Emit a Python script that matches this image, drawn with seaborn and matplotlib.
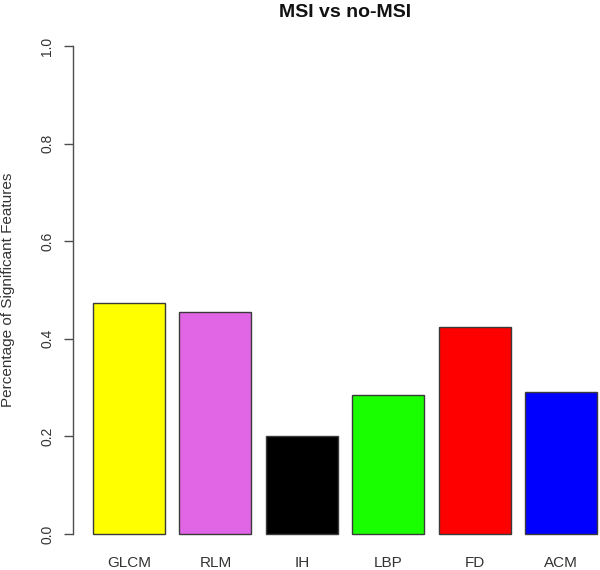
# bar chart of significant feature share per texture family
# msi vs no-msi comparison

import matplotlib
matplotlib.use("Agg")
import matplotlib.pyplot as plt
import pandas as pd
import seaborn as sns

FEATURES = ["GLCM", "RLM", "IH", "LBP", "FD", "ACM"]
PCT_SIGNIFICANT = [0.474, 0.455, 0.200, 0.285, 0.425, 0.290]
BAR_COLOURS = ["#FFFF00", "#E066E6", "#000000", "#1AFF00", "#FF0000", "#0000FF"]
Y_TICKS = [0.0, 0.2, 0.4, 0.6, 0.8, 1.0]


def main():
    sns.set_style("white")
    plt.rcParams["font.family"] = ["Liberation Sans", "DejaVu Sans"]

    df = pd.DataFrame({"feature": FEATURES, "pct": PCT_SIGNIFICANT})

    fig = plt.figure(figsize=(6, 5.7), dpi=100)
    ax = fig.add_axes([73 / 600, 1 - 553.5 / 570, 544 / 600, 527 / 570])

    sns.barplot(
        data=df, x="feature", y="pct", hue="feature",
        palette=BAR_COLOURS, legend=False, width=1 / 1.2,
        edgecolor="#3a3a3a", linewidth=1.0, saturation=1, ax=ax,
    )

    ax.set_xlim(-0.65, 5.65)
    ax.set_ylim(-0.04, 1.04)

    for side in ["top", "right", "bottom"]:
        ax.spines[side].set_visible(False)
    ax.spines["left"].set_bounds(0, 1)
    ax.spines["left"].set_color("#4d4d4d")
    ax.spines["left"].set_linewidth(1.0)

    ax.set_yticks(Y_TICKS)
    ax.set_yticklabels([f"{t:.1f}" for t in Y_TICKS], rotation=90, va="center")
    ax.tick_params(axis="y", length=6.5, width=1.0, color="#4d4d4d",
                   labelsize=10, labelcolor="#333333", pad=7, left=True)
    # names sit just under the (expanded) plot region, like R's barplot
    ax.tick_params(axis="x", length=0, labelsize=11, labelcolor="#333333", pad=2)

    ax.set_xlabel("")
    ax.set_ylabel("Percentage of Significant Features", fontsize=11, color="#333333")
    ax.yaxis.label.set_va("center")
    ax.yaxis.set_label_coords((8 - 73) / 544, 0.5)

    ax.set_title("MSI vs no-MSI", fontsize=14, fontweight="bold", color="#111111", pad=7)
    ax.grid(False)

    fig.savefig("out.png", dpi=100)
    plt.close(fig)


if __name__ == "__main__":
    main()
